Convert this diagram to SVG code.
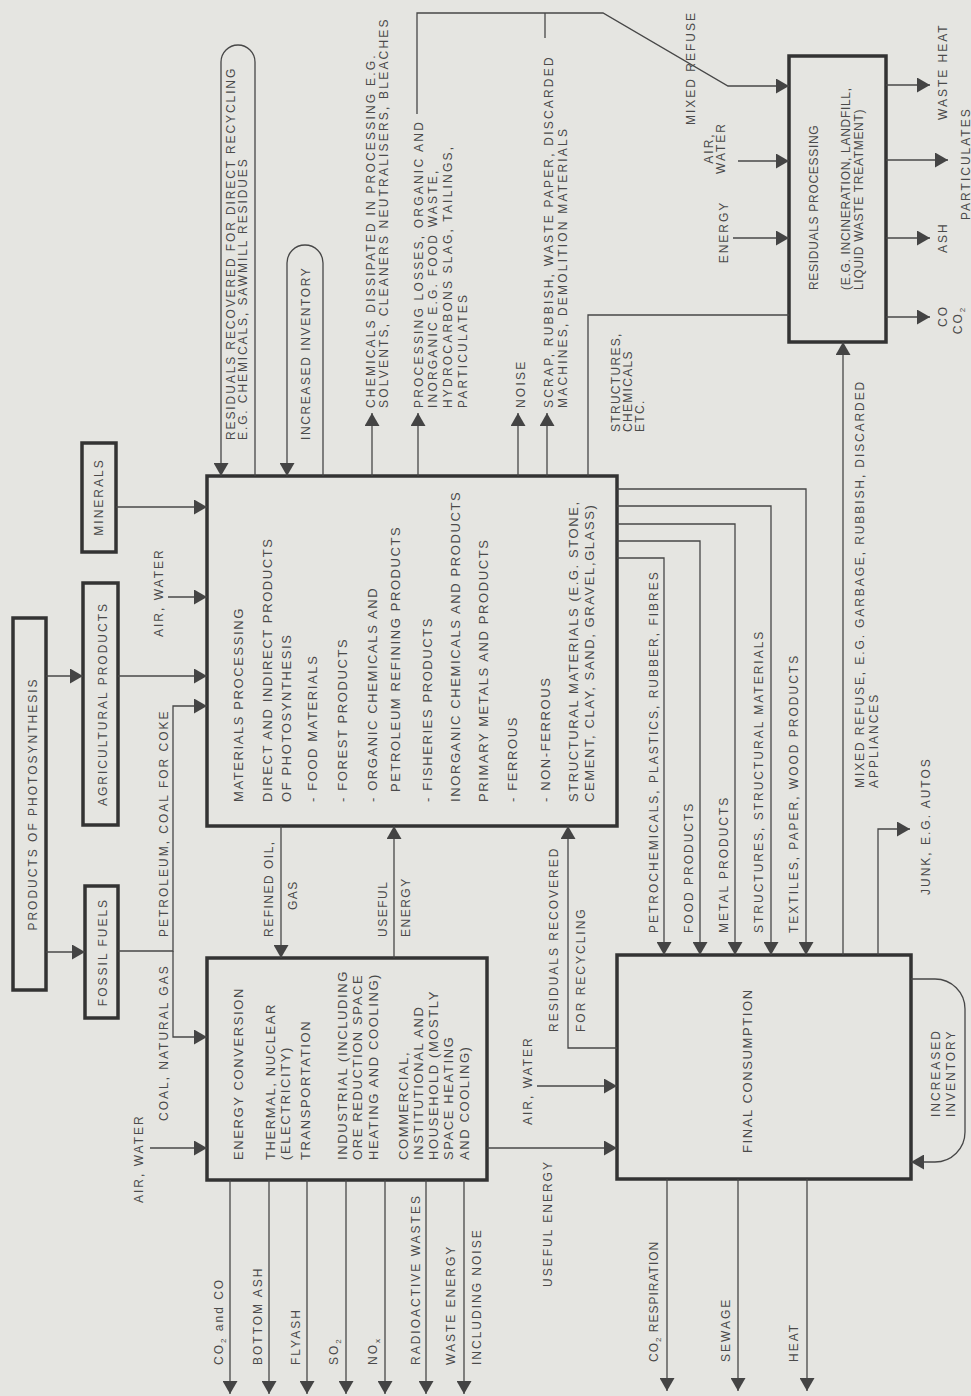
<svg xmlns="http://www.w3.org/2000/svg" width="971" height="1396" viewBox="0 0 971 1396">
<defs>
<style>
.box{fill:none;stroke:#333;stroke-width:3.5}
.ln{fill:none;stroke:#474747;stroke-width:1.3}
.a{marker-end:url(#ah)}
text{font-family:"Liberation Sans",Arial,Helvetica,sans-serif;fill:#4a4a4a;font-size:12px}
.t{letter-spacing:2px}
.tn{letter-spacing:1px}
.tt{letter-spacing:2.2px}
.tb{font-size:13px;letter-spacing:1.6px}
.tr{letter-spacing:0.7px}
.m{text-anchor:middle}
.sub{font-size:8px}
</style>
<marker id="ah" markerUnits="userSpaceOnUse" markerWidth="14" markerHeight="15" refX="13" refY="7.5" orient="auto">
<path d="M0,0 L13,7.5 L0,15 z" fill="#444"/>
</marker>
</defs>
<rect width="971" height="1396" fill="#e5e5e1"/>

<g id="n-photosynthesis">
<rect class="box" x="13" y="618" width="33" height="372"/>
<text class="t m" transform="translate(37 804) rotate(-90)">PRODUCTS OF PHOTOSYNTHESIS</text>
</g>
<g id="n-agricultural">
<rect class="box" x="83" y="583" width="35" height="242"/>
<text class="t m" transform="translate(107 704) rotate(-90)">AGRICULTURAL PRODUCTS</text>
</g>
<g id="n-fossil">
<rect class="box" x="85" y="886" width="33" height="132"/>
<text class="t m" transform="translate(107 952) rotate(-90)">FOSSIL FUELS</text>
</g>
<g id="n-minerals">
<rect class="box" x="82" y="443" width="34" height="109"/>
<text class="t m" transform="translate(103 497) rotate(-90)">MINERALS</text>
</g>

<g id="n-materials">
<rect class="box" x="207" y="476" width="410" height="350"/>
<text class="tb" transform="translate(243 802) rotate(-90)">MATERIALS PROCESSING</text>
<text class="tb" transform="translate(272 802) rotate(-90)">DIRECT AND INDIRECT PRODUCTS</text>
<text class="tb" transform="translate(291 802) rotate(-90)">OF PHOTOSYNTHESIS</text>
<text class="tb" transform="translate(317 802) rotate(-90)">- FOOD MATERIALS</text>
<text class="tb" transform="translate(347 802) rotate(-90)">- FOREST PRODUCTS</text>
<text class="tb" transform="translate(377 802) rotate(-90)">- ORGANIC CHEMICALS AND</text>
<text class="tb" transform="translate(400 792) rotate(-90)">PETROLEUM REFINING PRODUCTS</text>
<text class="tb" transform="translate(432 802) rotate(-90)">- FISHERIES PRODUCTS</text>
<text class="tb" transform="translate(460 802) rotate(-90)">INORGANIC CHEMICALS AND PRODUCTS</text>
<text class="tb" transform="translate(488 802) rotate(-90)">PRIMARY METALS AND PRODUCTS</text>
<text class="tb" transform="translate(517 802) rotate(-90)">- FERROUS</text>
<text class="tb" transform="translate(550 802) rotate(-90)">- NON-FERROUS</text>
<text class="tb" transform="translate(578 802) rotate(-90)">STRUCTURAL MATERIALS (E.G. STONE,</text>
<text class="tb" transform="translate(594 802) rotate(-90)">CEMENT, CLAY, SAND, GRAVEL,GLASS)</text>
</g>

<g id="n-energy">
<rect class="box" x="207" y="958" width="280" height="222"/>
<text class="tb" transform="translate(243 1160) rotate(-90)">ENERGY CONVERSION</text>
<text class="tb" transform="translate(275 1160) rotate(-90)">THERMAL, NUCLEAR</text>
<text class="tb" transform="translate(290 1160) rotate(-90)">(ELECTRICITY)</text>
<text class="tb" transform="translate(310 1160) rotate(-90)">TRANSPORTATION</text>
<text class="tb" transform="translate(347 1160) rotate(-90)">INDUSTRIAL (INCLUDING</text>
<text class="tb" transform="translate(362 1160) rotate(-90)">ORE REDUCTION SPACE</text>
<text class="tb" transform="translate(378 1160) rotate(-90)">HEATING AND COOLING)</text>
<text class="tb" transform="translate(408 1160) rotate(-90)">COMMERCIAL,</text>
<text class="tb" transform="translate(423 1160) rotate(-90)">INSTITUTIONAL AND</text>
<text class="tb" transform="translate(438 1160) rotate(-90)">HOUSEHOLD (MOSTLY</text>
<text class="tb" transform="translate(453 1160) rotate(-90)">SPACE HEATING</text>
<text class="tb" transform="translate(469 1160) rotate(-90)">AND COOLING)</text>
</g>

<g id="n-final">
<rect class="box" x="617" y="955" width="294" height="224"/>
<text class="tb" transform="translate(752 1153) rotate(-90)">FINAL CONSUMPTION</text>
</g>

<g id="n-residuals">
<rect class="box" x="789" y="56" width="97" height="286"/>
<text class="tr" transform="translate(818 290) rotate(-90)">RESIDUALS PROCESSING</text>
<text class="tr" transform="translate(850 290) rotate(-90)">(E.G. INCINERATION, LANDFILL,</text>
<text class="tr" transform="translate(863 290) rotate(-90)">LIQUID WASTE TREATMENT)</text>
</g>

<g id="connectors">
<path class="ln a" d="M46,676 H83"/>
<path class="ln a" d="M46,952 H85"/>
<path class="ln a" d="M118,676 H207"/>
<path class="ln a" d="M116,507 H207"/>
<path class="ln a" d="M168,597 H207"/>
<path class="ln a" d="M118,951 H173 V706 H207"/>
<path class="ln a" d="M173,951 V1037 H207"/>
<path class="ln a" d="M150,1148 H207"/>

<path class="ln a" d="M255,476 V62 A17,17 0 0 0 221,62 V476"/>
<path class="ln a" d="M323,476 V263 A18,18 0 0 0 287,263 V476"/>
<path class="ln a" d="M372,476 V413"/>
<path class="ln a" d="M418,476 V413"/>
<path class="ln a" d="M518,476 V413"/>
<path class="ln a" d="M547,476 V413"/>
<path class="ln a" d="M417,114 V13 H603 L728,86 H789"/>
<path class="ln" d="M545,38 V13"/>
<path class="ln" d="M588,476 V315 H789"/>

<path class="ln a" d="M281,826 V958"/>
<path class="ln a" d="M394,958 V826"/>
<path class="ln a" d="M617,1048 H568 V826"/>

<path class="ln a" d="M617,489 H806 V955"/>
<path class="ln a" d="M617,506 H771 V955"/>
<path class="ln a" d="M617,524 H735 V955"/>
<path class="ln a" d="M617,541 H700 V955"/>
<path class="ln a" d="M617,558 H664 V955"/>

<path class="ln a" d="M487,1148 H617"/>
<path class="ln a" d="M230,1180 V1394"/>
<path class="ln a" d="M269,1180 V1394"/>
<path class="ln a" d="M307,1180 V1394"/>
<path class="ln a" d="M346,1180 V1394"/>
<path class="ln a" d="M385,1180 V1394"/>
<path class="ln a" d="M426,1180 V1394"/>
<path class="ln a" d="M464,1180 V1394"/>

<path class="ln a" d="M537,1086 H617"/>
<path class="ln a" d="M843,955 V342"/>
<path class="ln a" d="M878,955 V829 H910"/>
<path class="ln a" d="M911,979 H935 A30,30 0 0 1 965,1009 V1132 A30,30 0 0 1 935,1162 H911"/>
<path class="ln a" d="M667,1179 V1391"/>
<path class="ln a" d="M738,1179 V1391"/>
<path class="ln a" d="M807,1179 V1391"/>

<path class="ln a" d="M738,161 H789"/>
<path class="ln a" d="M733,238 H789"/>
<path class="ln a" d="M886,85 H930"/>
<path class="ln a" d="M886,160 H948"/>
<path class="ln a" d="M886,238 H930"/>
<path class="ln a" d="M886,317 H930"/>
</g>

<g id="flow-labels">
<text class="t" transform="translate(168 937) rotate(-90)">PETROLEUM, COAL FOR COKE</text>
<text class="t" transform="translate(168 1121) rotate(-90)">COAL, NATURAL GAS</text>
<text class="t" transform="translate(143 1203) rotate(-90)">AIR, WATER</text>
<text class="t" transform="translate(163 637) rotate(-90)">AIR, WATER</text>

<text class="t" style="letter-spacing:1.9px" transform="translate(235 440) rotate(-90)">RESIDUALS  RECOVERED FOR DIRECT RECYCLING</text>
<text class="t" style="letter-spacing:1.9px" transform="translate(247 440) rotate(-90)">E.G.  CHEMICALS, SAWMILL RESIDUES</text>
<text class="t" style="letter-spacing:1.6px" transform="translate(310 440) rotate(-90)">INCREASED INVENTORY</text>
<text class="tt" transform="translate(375 408) rotate(-90)">CHEMICALS DISSIPATED IN PROCESSING E.G.</text>
<text class="tt" transform="translate(388 408) rotate(-90)">SOLVENTS, CLEANERS NEUTRALISERS, BLEACHES</text>
<text class="tt" transform="translate(423 408) rotate(-90)">PROCESSING LOSSES, ORGANIC AND</text>
<text class="tt" transform="translate(437 408) rotate(-90)">INORGANIC E.G.  FOOD WASTE,</text>
<text class="tt" transform="translate(452 408) rotate(-90)">HYDROCARBONS SLAG,  TAILINGS,</text>
<text class="tt" transform="translate(467 408) rotate(-90)">PARTICULATES</text>
<text class="tt" transform="translate(525 408) rotate(-90)">NOISE</text>
<text class="tt" transform="translate(553 408) rotate(-90)">SCRAP, RUBBISH, WASTE PAPER, DISCARDED</text>
<text class="tt" transform="translate(567 408) rotate(-90)">MACHINES, DEMOLITION MATERIALS</text>
<text class="tn" style="letter-spacing:1.3px" transform="translate(620 432) rotate(-90)">STRUCTURES,</text>
<text class="tn" style="letter-spacing:1.3px" transform="translate(632 432) rotate(-90)">CHEMICALS</text>
<text class="tn" style="letter-spacing:1.3px" transform="translate(644 432) rotate(-90)">ETC.</text>

<text class="t" transform="translate(695 125) rotate(-90)">MIXED REFUSE</text>
<text class="t m" transform="translate(713 148) rotate(-90)">AIR,</text>
<text class="t m" transform="translate(725 148) rotate(-90)">WATER</text>
<text class="t m" transform="translate(728 232) rotate(-90)">ENERGY</text>
<text class="t" transform="translate(947 120) rotate(-90)">WASTE HEAT</text>
<text class="t" transform="translate(970 220) rotate(-90)">PARTICULATES</text>
<text class="t" transform="translate(947 253) rotate(-90)">ASH</text>
<text class="t m" transform="translate(947 316) rotate(-90)">CO</text>
<text class="t m" transform="translate(962 320) rotate(-90)">CO<tspan class="sub" dy="3">2</tspan></text>

<text class="t" style="letter-spacing:1.5px" transform="translate(273 937) rotate(-90)">REFINED OIL,</text>
<text class="t" style="letter-spacing:1.5px" transform="translate(297 910) rotate(-90)">GAS</text>
<text class="t" style="letter-spacing:1.5px" transform="translate(387 937) rotate(-90)">USEFUL</text>
<text class="t" style="letter-spacing:1.5px" transform="translate(410 937) rotate(-90)">ENERGY</text>
<text class="t" transform="translate(558 1032) rotate(-90)">RESIDUALS RECOVERED</text>
<text class="t" transform="translate(585 1032) rotate(-90)">FOR RECYCLING</text>

<text class="t" transform="translate(658 933) rotate(-90)">PETROCHEMICALS, PLASTICS, RUBBER, FIBRES</text>
<text class="t" transform="translate(693 933) rotate(-90)">FOOD PRODUCTS</text>
<text class="t" transform="translate(728 933) rotate(-90)">METAL PRODUCTS</text>
<text class="t" transform="translate(763 933) rotate(-90)">STRUCTURES, STRUCTURAL MATERIALS</text>
<text class="t" transform="translate(798 933) rotate(-90)">TEXTILES, PAPER, WOOD PRODUCTS</text>
<text class="t" style="letter-spacing:1.9px" transform="translate(864 788) rotate(-90)">MIXED REFUSE, E.G.  GARBAGE, RUBBISH, DISCARDED</text>
<text class="t" transform="translate(878 788) rotate(-90)">APPLIANCES</text>
<text class="t" transform="translate(930 895) rotate(-90)">JUNK, E.G. AUTOS</text>
<text class="t" transform="translate(940 1117) rotate(-90)">INCREASED</text>
<text class="t" transform="translate(955 1117) rotate(-90)">INVENTORY</text>

<text class="t" transform="translate(532 1125) rotate(-90)">AIR, WATER</text>
<text class="t" transform="translate(552 1287) rotate(-90)">USEFUL ENERGY</text>

<text class="t" transform="translate(223 1365) rotate(-90)">CO<tspan class="sub" dy="3">2</tspan><tspan dy="-3"> and CO</tspan></text>
<text class="t" transform="translate(262 1365) rotate(-90)">BOTTOM ASH</text>
<text class="t" transform="translate(300 1365) rotate(-90)">FLYASH</text>
<text class="t" transform="translate(338 1365) rotate(-90)">SO<tspan class="sub" dy="3">2</tspan></text>
<text class="t" transform="translate(377 1365) rotate(-90)">NO<tspan class="sub" dy="3">x</tspan></text>
<text class="t" transform="translate(420 1365) rotate(-90)">RADIOACTIVE WASTES</text>
<text class="t" transform="translate(455 1365) rotate(-90)">WASTE ENERGY</text>
<text class="t" transform="translate(481 1365) rotate(-90)">INCLUDING NOISE</text>

<text class="tn" transform="translate(658 1362) rotate(-90)">CO<tspan class="sub" dy="3">2</tspan><tspan dy="-3"> RESPIRATION</tspan></text>
<text class="t" transform="translate(730 1362) rotate(-90)">SEWAGE</text>
<text class="t" transform="translate(798 1362) rotate(-90)">HEAT</text>
</g>
</svg>
